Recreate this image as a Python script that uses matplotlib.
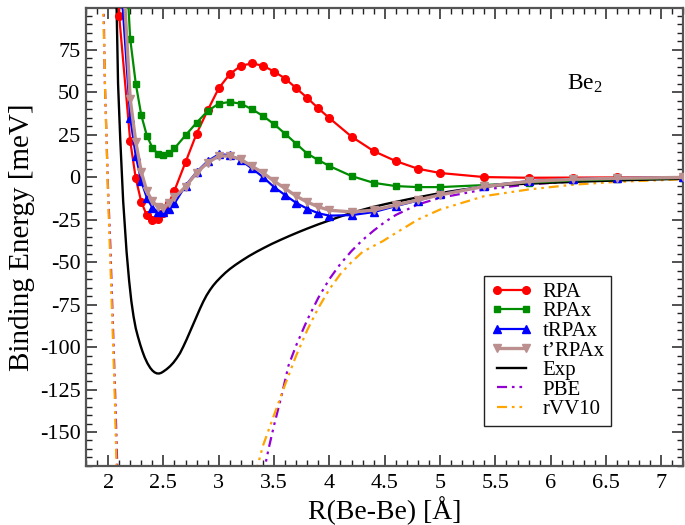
import matplotlib
matplotlib.use("Agg")
import matplotlib.pyplot as plt
from matplotlib.ticker import MultipleLocator

plt.rcParams['font.family'] = ['Liberation Serif', 'DejaVu Serif']
plt.rcParams['mathtext.fontset'] = 'custom'
plt.rcParams['mathtext.rm'] = 'Liberation Serif'
plt.rcParams['mathtext.it'] = 'Liberation Serif:italic'
plt.rcParams['axes.unicode_minus'] = False

# ---- binding-energy curves for Be2 (R in Angstrom, E in meV) ----
rpa_r = [2.0, 2.1, 2.2, 2.25, 2.3, 2.35, 2.4, 2.45, 2.5, 2.55, 2.6, 2.7, 2.8, 2.9,
         3.0, 3.1, 3.2, 3.3, 3.4, 3.5, 3.6, 3.7, 3.8, 3.9, 4.0, 4.2, 4.4, 4.6,
         4.8, 5.0, 5.4, 5.8, 6.2, 6.6, 7.2]
rpa_e = [300, 95, 21.2, -0.8, -14.6, -22.6, -25.4, -24.4, -21.4, -15.2, -7.9, 8.8,
         25.6, 39.3, 52.3, 60.6, 65.5, 66.9, 65.5, 62.1, 58.0, 52.3, 46.6, 40.4,
         34.7, 23.8, 15.3, 9.4, 4.9, 2.4, 0.0, -0.4, -0.3, -0.2, -0.1]

rpax_r = [2.1, 2.2, 2.25, 2.3, 2.35, 2.4, 2.45, 2.5, 2.55, 2.6, 2.7, 2.8, 2.9, 3.0,
          3.1, 3.2, 3.3, 3.4, 3.5, 3.6, 3.7, 3.8, 3.9, 4.0, 4.2, 4.4, 4.6, 4.8,
          5.0, 5.4, 5.8, 6.2, 6.6, 7.2]
rpax_e = [200, 81.2, 55.0, 36.4, 24.4, 17.3, 13.6, 13.0, 14.0, 16.9, 24.6, 32.0,
          38.9, 43.2, 44.2, 43.2, 39.9, 36.0, 31.1, 25.5, 19.6, 13.8, 10.0, 6.5,
          0.6, -3.4, -5.3, -5.9, -5.9, -4.7, -3.2, -2.0, -1.2, -0.5]

trpax_r = [2.1, 2.2, 2.25, 2.3, 2.35, 2.4, 2.45, 2.5, 2.55, 2.6, 2.7, 2.8, 2.9, 3.0,
           3.1, 3.2, 3.3, 3.4, 3.5, 3.6, 3.7, 3.8, 3.9, 4.0, 4.2, 4.4, 4.6, 4.8,
           5.0, 5.4, 5.8, 6.2, 6.6, 7.2]
trpax_e = [130, 35.0, 12.4, -2.4, -12.2, -18.0, -20.5, -20.5, -18.5, -15.5, -5.0,
           3.0, 9.4, 13.4, 13.0, 9.8, 5.1, 0.0, -5.9, -10.6, -15.2, -18.6, -21.3,
           -22.7, -22.4, -20.6, -17.1, -13.8, -10.2, -5.3, -2.4, -1.2, -0.6, -0.2]

tprpax_r = [2.1, 2.2, 2.25, 2.3, 2.35, 2.4, 2.45, 2.5, 2.55, 2.6, 2.7, 2.8, 2.9,
            3.0, 3.1, 3.2, 3.3, 3.4, 3.5, 3.6, 3.7, 3.8, 3.9, 4.0, 4.2, 4.4, 4.6,
            4.8, 5.0, 5.4, 5.8, 6.2, 6.6, 7.2]
tprpax_e = [160, 45.8, 20.7, 3.1, -8.3, -14.2, -17.5, -18.0, -15.5, -12.0, -5.7,
            2.5, 8.5, 12.4, 12.4, 10.4, 6.4, 2.5, -2.4, -6.7, -11.2, -14.7, -17.5,
            -19.5, -20.5, -19.5, -16.5, -13.5, -10.5, -5.5, -2.6, -1.3, -0.7, -0.2]

exp_r = [2.06, 2.077, 2.09, 2.11, 2.136, 2.167, 2.19, 2.21, 2.23, 2.25, 2.27, 2.29,
         2.31, 2.33, 2.355, 2.38, 2.40, 2.42, 2.44, 2.46, 2.48, 2.50, 2.53, 2.56,
         2.59, 2.62, 2.65, 2.68, 2.71, 2.74, 2.77, 2.8, 2.83, 2.86, 2.89, 2.92,
         2.95, 2.98, 3.02, 3.06, 3.1, 3.15, 3.2, 3.27, 3.34, 3.41, 3.48, 3.56,
         3.64, 3.72, 3.8, 3.9, 4.0, 4.09, 4.18, 4.29, 4.4, 4.52, 4.63, 4.74, 4.85,
         4.97, 5.08, 5.2, 5.3, 5.42, 5.53, 5.64, 5.75, 5.87, 5.98, 6.15, 6.3,
         6.5, 6.7, 6.95, 7.2]
exp_e = [130, 99.5, 55, 22, -14, -44, -61, -73, -82, -89, -94, -98.5,
         -102.5, -106, -109.5, -112.2, -113.8, -114.9, -115.5, -115.6, -115.2,
         -114.4, -113.0, -111.3, -109.2, -106.6, -103.6, -99.7, -95.5, -91,
         -86.5, -82, -77.5, -73.3, -69.6, -66.5, -63.8, -61.5, -58.8, -56.3,
         -54.1, -51.7, -49.5, -46.6, -44.0, -41.6, -39.3, -36.9, -34.6, -32.4,
         -30.3, -27.8, -25.5, -23.4, -21.5, -19.4, -17.5, -15.7, -14.2, -12.7,
         -11.3, -9.8, -8.6, -7.4, -6.5, -5.6, -4.9, -4.4, -4.0, -3.7, -3.4,
         -3.0, -2.6, -2.2, -1.8, -1.4, -1.0]

pbe_left_r = [1.95, 1.96, 1.97, 1.985, 2.0, 2.02, 2.04, 2.065, 2.085]
pbe_left_e = [130, 99.5, 57, 25, -8, -40, -80, -130, -175]
pbe_right_r = [3.40, 3.45, 3.5, 3.57, 3.63, 3.7, 3.8, 3.9, 4.0, 4.1, 4.2, 4.3, 4.4,
               4.5, 4.6, 4.8, 5.0, 5.4, 5.8, 6.2, 6.6, 7.2]
pbe_right_e = [-176, -160, -146, -128, -111, -99, -84, -71, -60, -51, -43.5, -37,
               -31.5, -26.5, -22.3, -16.1, -12.2, -7.3, -4.3, -2.6, -1.6, -0.8]

rvv_left_r = [1.945, 1.956, 1.971, 1.985, 2.001, 2.016, 2.032, 2.046, 2.061, 2.078]
rvv_left_e = [130, 99.5, 57, 22, -14, -42, -73, -100, -131, -175]
rvv_right_r = [3.33, 3.4, 3.5, 3.6, 3.7, 3.8, 3.9, 4.0, 4.1, 4.2, 4.3, 4.4, 4.48,
               4.6, 4.8, 5.0, 5.4, 5.8, 6.2, 6.6, 7.2]
rvv_right_e = [-175, -158, -140, -122, -105, -90, -77, -66, -57, -50, -44, -40.5,
               -37.8, -32.9, -25, -19.1, -11.2, -7.3, -4.5, -2.8, -1.3]

x_ticks = [2, 2.5, 3, 3.5, 4, 4.5, 5, 5.5, 6, 6.5, 7]
x_tick_labels = ['2', '2.5', '3', '3.5', '4', '4.5', '5', '5.5', '6', '6.5', '7']
y_ticks = [-150, -125, -100, -75, -50, -25, 0, 25, 50, 75]

fig = plt.figure(figsize=(6.85, 5.25), dpi=100)
ax = fig.add_axes([0.1255, 0.1124, 0.8723, 0.8724])

dashdotdot = (0, (4.5, 2.2, 1.2, 2.2, 1.2, 2.2))

ax.plot(pbe_left_r, pbe_left_e, color='#9400d3', lw=1.6, ls=dashdotdot, zorder=2)
ax.plot(pbe_right_r, pbe_right_e, color='#9400d3', lw=1.6, ls=dashdotdot, zorder=2,
        label='PBE')
ax.plot(rvv_left_r, rvv_left_e, color='#ffa500', lw=1.6, ls=dashdotdot, zorder=2.1)
ax.plot(rvv_right_r, rvv_right_e, color='#ffa500', lw=1.6, ls=dashdotdot, zorder=2.1,
        label='rVV10')
ax.plot(exp_r, exp_e, color='black', lw=1.7, zorder=3, label='Exp')

ax.plot(rpa_r, rpa_e, color='#ff0000', lw=1.6, marker='o', ms=5.5, zorder=4,
        label='RPA')
ax.plot(rpax_r, rpax_e, color='#008c00', lw=1.6, marker='s', ms=4.8, zorder=4,
        label='RPAx')
ax.plot(trpax_r, trpax_e, color='#0000ff', lw=1.6, marker='^', ms=5.2, zorder=4,
        label='tRPAx')
ax.plot(tprpax_r, tprpax_e, color='#bc8f8f', lw=2.4, marker='v', ms=5.2, zorder=4.1,
        label='t\u2019RPAx')

ax.set_xlim(1.8, 7.2)
ax.set_ylim(-170, 99.5)
ax.set_xticks(x_ticks)
ax.set_xticklabels(x_tick_labels)
ax.set_yticks(y_ticks)
ax.xaxis.set_minor_locator(MultipleLocator(0.1))
ax.yaxis.set_minor_locator(MultipleLocator(5))
ax.tick_params(which='both', direction='in', top=True, right=True, colors='#222222',
               labelcolor='black', labelsize=16)
ax.tick_params(which='major', length=8, width=1.1)
ax.tick_params(which='minor', length=4.5, width=1.0)
ax.tick_params(axis='x', pad=6)
ax.tick_params(axis='y', pad=4)
for sp in ax.spines.values():
    sp.set_color('#555555')
    sp.set_linewidth(1.6)

ax.set_xlabel('R(Be-Be) [\u00c5]', fontsize=20, labelpad=2)
ax.set_ylabel('Binding Energy [meV]', fontsize=21, labelpad=3)

ax.text(567, 525 - 90, 'Be$_2$', transform=None, fontsize=17, ha='left',
        va='baseline')

handles, labels = ax.get_legend_handles_labels()
order = ['RPA', 'RPAx', 'tRPAx', 't\u2019RPAx', 'Exp', 'PBE', 'rVV10']
hmap = dict(zip(labels, handles))
leg = ax.legend([hmap[k] for k in order], order, loc='upper left',
                bbox_to_anchor=(484 / 685, 1 - 276 / 525),
                bbox_transform=fig.transFigure, fontsize=15, frameon=True,
                fancybox=False, framealpha=1, edgecolor='#222222',
                handlelength=2.0, handletextpad=0.5, labelspacing=0.0,
                borderpad=0.3, borderaxespad=0, numpoints=2)
leg.get_frame().set_linewidth(1.0)

fig.savefig('out.png', dpi=100)
